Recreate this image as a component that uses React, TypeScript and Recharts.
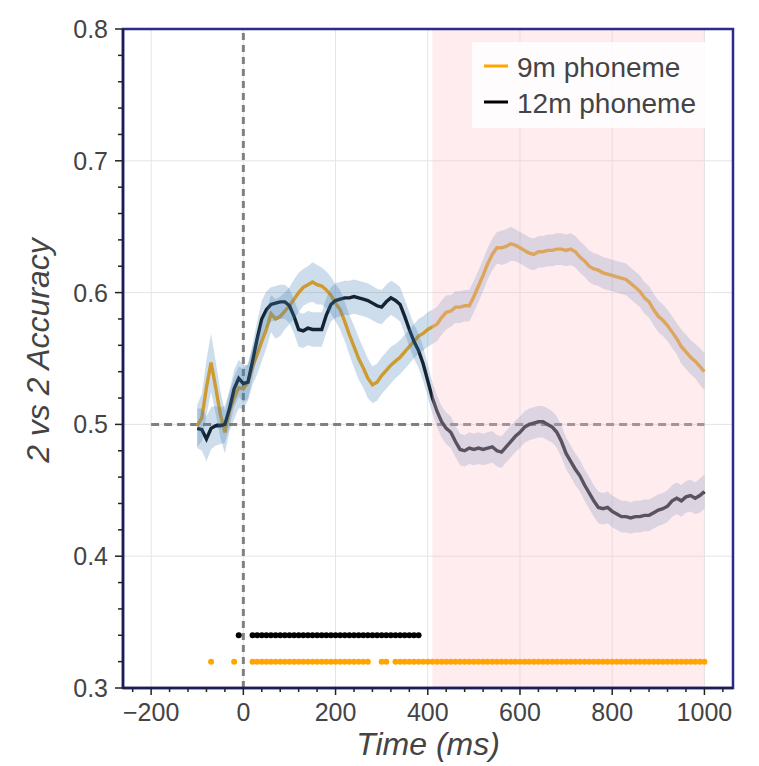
import React from 'react';
import {
  ComposedChart,
  Line,
  Area,
  Scatter,
  XAxis,
  YAxis,
  ReferenceLine,
  ReferenceArea,
  Legend,
} from 'recharts';

// ---------------- data ----------------
const times = [
  -100, -90, -80, -70, -60, -50, -40, -30, -20, -10,
  0, 10, 20, 30, 40, 50, 60, 70, 80, 90,
  100, 110, 120, 130, 140, 150, 160, 170, 180, 190,
  200, 210, 220, 230, 240, 250, 260, 270, 280, 290,
  300, 310, 320, 330, 340, 350, 360, 370, 380, 390,
  400, 410, 420, 430, 440, 450, 460, 470, 480, 490,
  500, 510, 520, 530, 540, 550, 560, 570, 580, 590,
  600, 610, 620, 630, 640, 650, 660, 670, 680, 690,
  700, 710, 720, 730, 740, 750, 760, 770, 780, 790,
  800, 810, 820, 830, 840, 850, 860, 870, 880, 890,
  900, 910, 920, 930, 940, 950, 960, 970, 980, 990,
  1000,
];

const acc9m = [
  0.499, 0.505, 0.528, 0.547, 0.528, 0.508, 0.494, 0.510, 0.520, 0.528,
  0.527, 0.532, 0.544, 0.553, 0.563, 0.572, 0.584, 0.580, 0.582, 0.586,
  0.590, 0.595, 0.600, 0.604, 0.606, 0.608, 0.606, 0.605, 0.602, 0.598,
  0.592, 0.587, 0.578, 0.568, 0.559, 0.550, 0.543, 0.535, 0.530, 0.532,
  0.537, 0.541, 0.545, 0.548, 0.551, 0.555, 0.559, 0.563, 0.567, 0.569,
  0.572, 0.574, 0.576, 0.581, 0.585, 0.586, 0.589, 0.589, 0.590, 0.590,
  0.597, 0.605, 0.613, 0.622, 0.629, 0.634, 0.634, 0.635, 0.637, 0.636,
  0.634, 0.632, 0.630, 0.629, 0.631, 0.631, 0.632, 0.632, 0.633, 0.633,
  0.632, 0.633, 0.631, 0.627, 0.624, 0.620, 0.618, 0.617, 0.615, 0.614,
  0.613, 0.612, 0.611, 0.610, 0.607, 0.604, 0.601, 0.596, 0.593, 0.587,
  0.582, 0.579, 0.575, 0.570, 0.565, 0.559, 0.555, 0.551, 0.548, 0.544,
  0.540,
];

const acc12m = [
  0.497, 0.496, 0.489, 0.497, 0.499, 0.499, 0.500, 0.512, 0.527, 0.535,
  0.531, 0.532, 0.548, 0.565, 0.580, 0.587, 0.591, 0.592, 0.593, 0.593,
  0.590, 0.582, 0.572, 0.571, 0.573, 0.572, 0.572, 0.572, 0.583, 0.591,
  0.594, 0.595, 0.596, 0.596, 0.597, 0.596, 0.595, 0.594, 0.592, 0.590,
  0.589, 0.593, 0.596, 0.594, 0.591, 0.582, 0.572, 0.563, 0.556, 0.546,
  0.533, 0.520, 0.510, 0.502, 0.497, 0.494, 0.487, 0.481, 0.480, 0.482,
  0.481, 0.482, 0.481, 0.482, 0.483, 0.480, 0.479, 0.483, 0.487, 0.491,
  0.494, 0.498, 0.500, 0.501, 0.502, 0.502, 0.500, 0.498, 0.494, 0.487,
  0.478, 0.472, 0.466, 0.461, 0.454, 0.448, 0.442, 0.437, 0.436, 0.437,
  0.434, 0.432, 0.430, 0.430, 0.429, 0.430, 0.430, 0.431, 0.431, 0.433,
  0.435, 0.436, 0.438, 0.442, 0.444, 0.442, 0.445, 0.446, 0.444, 0.446,
  0.449,
];

const sem9m = [
  0.016, 0.018, 0.021, 0.022, 0.020, 0.018, 0.016, 0.015, 0.016, 0.016,
  0.015, 0.014, 0.014, 0.015, 0.015, 0.014, 0.014, 0.015, 0.015, 0.014,
  0.014, 0.015, 0.015, 0.014, 0.014, 0.015, 0.015, 0.014, 0.014, 0.014,
  0.014, 0.015, 0.015, 0.015, 0.016, 0.016, 0.015, 0.015, 0.014, 0.014,
  0.014, 0.014, 0.014, 0.013, 0.013, 0.013, 0.013, 0.013, 0.013, 0.013,
  0.013, 0.013, 0.013, 0.013, 0.013, 0.012, 0.012, 0.012, 0.012, 0.012,
  0.012, 0.012, 0.012, 0.012, 0.012, 0.012, 0.013, 0.013, 0.013, 0.012,
  0.012, 0.012, 0.012, 0.012, 0.012, 0.012, 0.012, 0.012, 0.012, 0.012,
  0.012, 0.012, 0.012, 0.012, 0.012, 0.012, 0.012, 0.012, 0.012, 0.012,
  0.012, 0.012, 0.012, 0.012, 0.012, 0.012, 0.012, 0.012, 0.012, 0.012,
  0.012, 0.012, 0.012, 0.012, 0.012, 0.013, 0.013, 0.013, 0.013, 0.014,
  0.014,
];

const sem12m = [
  0.015, 0.016, 0.017, 0.016, 0.015, 0.014, 0.014, 0.014, 0.014, 0.014,
  0.014, 0.013, 0.013, 0.013, 0.014, 0.014, 0.013, 0.013, 0.013, 0.013,
  0.013, 0.013, 0.013, 0.013, 0.013, 0.013, 0.013, 0.013, 0.013, 0.013,
  0.013, 0.013, 0.013, 0.013, 0.013, 0.013, 0.013, 0.013, 0.013, 0.013,
  0.013, 0.013, 0.013, 0.013, 0.013, 0.013, 0.013, 0.013, 0.013, 0.013,
  0.012, 0.012, 0.012, 0.012, 0.012, 0.012, 0.012, 0.012, 0.012, 0.012,
  0.012, 0.012, 0.012, 0.012, 0.012, 0.012, 0.012, 0.012, 0.012, 0.012,
  0.012, 0.012, 0.012, 0.012, 0.012, 0.012, 0.012, 0.012, 0.012, 0.012,
  0.012, 0.012, 0.012, 0.012, 0.012, 0.012, 0.012, 0.012, 0.012, 0.012,
  0.012, 0.012, 0.012, 0.012, 0.012, 0.012, 0.012, 0.012, 0.012, 0.012,
  0.012, 0.012, 0.012, 0.012, 0.012, 0.012, 0.012, 0.012, 0.012, 0.013,
  0.013,
];

// significant time points (ms)
const sig9mTimes = [
  -70, -20,
  20, 30, 40, 50, 60, 70, 80, 90, 100, 110, 120, 130, 140, 150, 160, 170, 180,
  190, 200, 210, 220, 230, 240, 250, 260, 270,
  300, 310,
  330, 340, 350, 360, 370, 380, 390, 400, 410, 420, 430, 440, 450, 460, 470,
  480, 490, 500, 510, 520, 530, 540, 550, 560, 570, 580, 590, 600, 610, 620,
  630, 640, 650, 660, 670, 680, 690, 700, 710, 720, 730, 740, 750, 760, 770,
  780, 790, 800, 810, 820, 830, 840, 850, 860, 870, 880, 890, 900, 910, 920,
  930, 940, 950, 960, 970, 980, 990, 1000,
];
const sig12mTimes = [
  -10,
  20, 30, 40, 50, 60, 70, 80, 90, 100, 110, 120, 130, 140, 150, 160, 170, 180,
  190, 200, 210, 220, 230, 240, 250, 260, 270, 280, 290, 300, 310, 320, 330,
  340, 350, 360, 370, 380,
];
const sig9mLevel = 0.32;
const sig12mLevel = 0.34;

const seriesNames = ['9m phoneme', '12m phoneme'];
const seriesColors = ['#FFA500', '#000000'];

const xTickValues = [
  -240, -200, -160, -120, -80, -40, 0, 40, 80, 120, 160, 200, 240, 280, 320,
  360, 400, 440, 480, 520, 560, 600, 640, 680, 720, 760, 800, 840, 880, 920,
  960, 1000, 1040,
];
const yTickValues = [
  0.3, 0.32, 0.34, 0.36, 0.38, 0.4, 0.42, 0.44, 0.46, 0.48, 0.5, 0.52, 0.54,
  0.56, 0.58, 0.6, 0.62, 0.64, 0.66, 0.68, 0.7, 0.72, 0.74, 0.76, 0.78, 0.8,
];
const xGridValues = [-200, 0, 200, 400, 600, 800, 1000];
const yGridValues = [0.4, 0.5, 0.6, 0.7];

const xDomain = [-261, 1062];
const yDomain = [0.3, 0.8];
const chanceLevel = 0.5;
const onsetTime = 0;
const chanceLineRange = [-200, 1000];
const windowStart = 410;
const windowEnd = 1000;

// ---------------- derived tables ----------------
const table = times.map((t, i) => ({
  t,
  m9: acc9m[i],
  m12: acc12m[i],
  b9: [acc9m[i] - sem9m[i], acc9m[i] + sem9m[i]],
  b12: [acc12m[i] - sem12m[i], acc12m[i] + sem12m[i]],
}));
const sig9mData = sig9mTimes.map((t) => ({ t, level: sig9mLevel }));
const sig12mData = sig12mTimes.map((t) => ({ t, level: sig12mLevel }));

const FONT = "'Liberation Sans', Arial, Helvetica, sans-serif";
const TEXT = '#444444';
const AXIS = '#1d1d55';

const XTick = (props: any) => {
  const { x, y, payload } = props;
  const v = payload.value;
  const major = v % 200 === 0;
  return (
    <g>
      <line x1={x} x2={x} y1={y} y2={y + (major ? 7 : 4)} stroke="#222" strokeWidth={1.5} />
      {major && (
        <text x={x} y={y + 33} textAnchor="middle" fontSize={25} fill={TEXT} fontFamily={FONT}>
          {v < 0 ? `\u2212${-v}` : `${v}`}
        </text>
      )}
    </g>
  );
};

const YTick = (props: any) => {
  const { x, y, payload } = props;
  const v = payload.value;
  const major = Math.round(v * 100) % 10 === 0;
  return (
    <g>
      <line x1={x} x2={x - (major ? 8 : 5)} y1={y} y2={y} stroke="#222" strokeWidth={1.5} />
      {major && (
        <text x={x - 15} y={y + 9} textAnchor="end" fontSize={25} fill={TEXT} fontFamily={FONT}>
          {v.toFixed(1)}
        </text>
      )}
    </g>
  );
};

const dotShape = (color: string) => (p: any) =>
  <circle cx={p.cx} cy={p.cy} r={3} fill={color} />;

const dashedShape = (dash: string) => (p: any) =>
  <line x1={p.x1} y1={p.y1} x2={p.x2} y2={p.y2} stroke="#808080" strokeWidth={3} strokeDasharray={dash} />;

const YTitle = (props: any) => {
  const vb = props.viewBox || { x: 0, y: 21, width: 115, height: 659 };
  const cx = vb.x + 41;
  const cy = vb.y + vb.height / 2 - 8;
  return (
    <text
      transform={`translate(${cx}, ${cy}) rotate(-90)`}
      textAnchor="middle"
      fontSize={32}
      fontStyle="italic"
      fill={TEXT}
      fontFamily={FONT}
    >
      2 vs 2 Accuracy
    </text>
  );
};

const LegendBox = () => (
  <svg width={250} height={86}>
    <rect x={0} y={0} width={250} height={86} fill="rgba(255,255,255,0.85)" />
    {seriesNames.map((name, i) => (
      <g key={name}>
        <line x1={12} x2={36} y1={24 + i * 36} y2={24 + i * 36} stroke={seriesColors[i]} strokeWidth={3} />
        <text x={45} y={35 + i * 36} fontSize={28} fill={TEXT} fontFamily={FONT}>
          {name}
        </text>
      </g>
    ))}
  </svg>
);

export default function App() {
  return (
    <div style={{ width: 745, height: 755 }}>
      <ComposedChart
        width={745}
        height={755}
        data={table}
        margin={{ top: 21, right: 20, bottom: 5, left: 0 }}
      >
        {xGridValues.map((v) => (
          <ReferenceLine key={'gx' + v} x={v} stroke="#e4e4e4" strokeWidth={1} zIndex={-100} />
        ))}
        {yGridValues.map((v) => (
          <ReferenceLine key={'gy' + v} y={v} stroke="#e4e4e4" strokeWidth={1} zIndex={-100} />
        ))}
        <ReferenceLine
          segment={[
            { x: chanceLineRange[0], y: chanceLevel },
            { x: chanceLineRange[1], y: chanceLevel },
          ]}
          stroke="#808080"
          strokeWidth={3}
          strokeDasharray="8 5"
          shape={dashedShape('8 5')}
          zIndex={50}
        />
        <ReferenceLine
          x={onsetTime}
          stroke="#808080"
          strokeWidth={3}
          strokeDasharray="7 5"
          shape={dashedShape('7 5')}
          zIndex={50}
        />

        <Line
          type="linear"
          dataKey="m9"
          stroke={seriesColors[0]}
          strokeWidth={3.4}
          dot={false}
          activeDot={false}
          isAnimationActive={false}
          zIndex={100}
        />
        <Line
          type="linear"
          dataKey="m12"
          stroke={seriesColors[1]}
          strokeWidth={3.4}
          dot={false}
          activeDot={false}
          isAnimationActive={false}
          zIndex={101}
        />
        <Area
          type="linear"
          dataKey="b9"
          stroke="none"
          fill="#4682b4"
          fillOpacity={0.27}
          dot={false}
          activeDot={false}
          isAnimationActive={false}
          zIndex={200}
        />
        <Area
          type="linear"
          dataKey="b12"
          stroke="none"
          fill="#4682b4"
          fillOpacity={0.27}
          dot={false}
          activeDot={false}
          isAnimationActive={false}
          zIndex={201}
        />
        <ReferenceArea
          x1={windowStart}
          x2={windowEnd}
          fill="#ffc0cb"
          fillOpacity={0.3}
          stroke="none"
          zIndex={300}
        />
        <Scatter
          data={sig9mData}
          dataKey="level"
          fill={seriesColors[0]}
          shape={dotShape(seriesColors[0])}
          isAnimationActive={false}
          zIndex={600}
        />
        <Scatter
          data={sig12mData}
          dataKey="level"
          fill={seriesColors[1]}
          shape={dotShape(seriesColors[1])}
          isAnimationActive={false}
          zIndex={601}
        />
        <ReferenceArea
          x1={xDomain[0]}
          x2={xDomain[1]}
          y1={yDomain[0]}
          y2={yDomain[1]}
          fill="none"
          stroke="#2b2b8c"
          strokeWidth={2.5}
          zIndex={450}
        />

        <XAxis
          dataKey="t"
          type="number"
          domain={xDomain}
          allowDataOverflow
          ticks={xTickValues}
          interval={0}
          tick={<XTick />}
          tickLine={false}
          tickSize={0}
          tickMargin={0}
          height={70}
          axisLine={{ stroke: AXIS, strokeWidth: 2.5 }}
          label={{
            value: 'Time (ms)',
            position: 'insideBottom',
            offset: 3,
            style: { fontSize: 32, fontStyle: 'italic', fill: TEXT, fontFamily: FONT },
          }}
        />
        <YAxis
          type="number"
          domain={yDomain}
          allowDataOverflow
          ticks={yTickValues}
          interval={0}
          tick={<YTick />}
          tickLine={false}
          tickSize={0}
          tickMargin={0}
          width={115}
          axisLine={{ stroke: AXIS, strokeWidth: 2.5 }}
          label={{ value: '2 vs 2 Accuracy', content: <YTitle /> }}
        />
        <Legend
          layout="horizontal"
          verticalAlign="middle"
          content={() => <LegendBox />}
          wrapperStyle={{ position: 'absolute', left: 464, top: 34, width: 250, height: 86 }}
        />
      </ComposedChart>
    </div>
  );
}
